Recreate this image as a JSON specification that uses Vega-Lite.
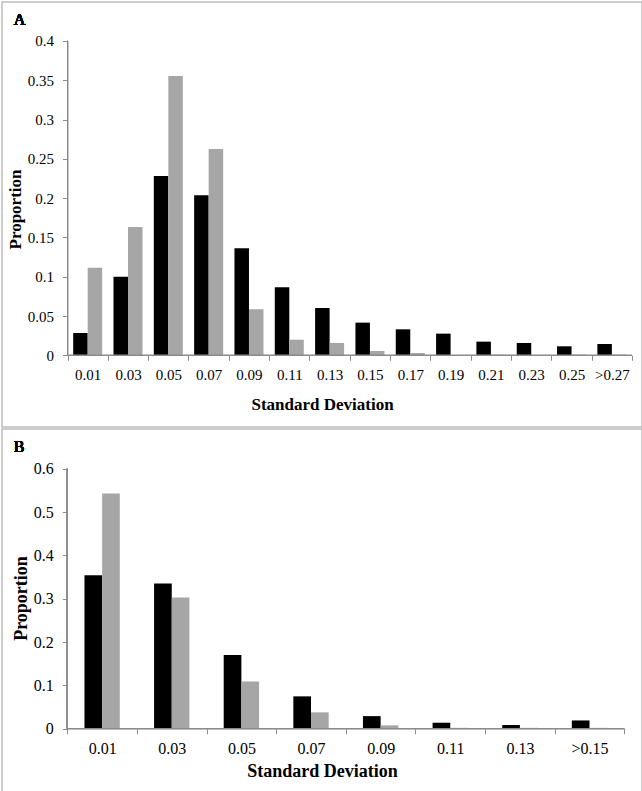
{
  "$schema": "https://vega.github.io/schema/vega-lite/v6.json",
  "padding": 1,
  "autosize": {"type": "pad"},
  "background": "white",
  "spacing": 0,
  "resolve": {"scale": {"x": "independent", "y": "independent", "xOffset": "independent", "color": "independent"}},
  "config": {
    "view": {"stroke": "#bdbdbd", "strokeWidth": 1.5},
    "font": "Liberation Serif",
    "axis": {"grid": false, "domain": false, "tickColor": "#8c8c8c", "tickSize": 5, "labelColor": "#000", "titleColor": "#000", "titleFontWeight": "bold", "labelFont": "Liberation Serif", "titleFont": "Liberation Serif"}
  },
  "vconcat": [
    {
      "width": 640,
      "height": 425,
      "data": {"values": [
        {"sd": "0.01", "group": "1", "p": 0.0284}, {"sd": "0.01", "group": "2", "p": 0.1116},
        {"sd": "0.03", "group": "1", "p": 0.1001}, {"sd": "0.03", "group": "2", "p": 0.1633},
        {"sd": "0.05", "group": "1", "p": 0.2282}, {"sd": "0.05", "group": "2", "p": 0.3555},
        {"sd": "0.07", "group": "1", "p": 0.2036}, {"sd": "0.07", "group": "2", "p": 0.2626},
        {"sd": "0.09", "group": "1", "p": 0.1362}, {"sd": "0.09", "group": "2", "p": 0.0585},
        {"sd": "0.11", "group": "1", "p": 0.0865}, {"sd": "0.11", "group": "2", "p": 0.0199},
        {"sd": "0.13", "group": "1", "p": 0.0602}, {"sd": "0.13", "group": "2", "p": 0.0157},
        {"sd": "0.15", "group": "1", "p": 0.0416}, {"sd": "0.15", "group": "2", "p": 0.0055},
        {"sd": "0.17", "group": "1", "p": 0.0331}, {"sd": "0.17", "group": "2", "p": 0.003},
        {"sd": "0.19", "group": "1", "p": 0.0276}, {"sd": "0.19", "group": "2", "p": 0.0003},
        {"sd": "0.21", "group": "1", "p": 0.0174}, {"sd": "0.21", "group": "2", "p": 0.001},
        {"sd": "0.23", "group": "1", "p": 0.0157}, {"sd": "0.23", "group": "2", "p": 0.0003},
        {"sd": "0.25", "group": "1", "p": 0.0115}, {"sd": "0.25", "group": "2", "p": 0.001},
        {"sd": ">0.27", "group": "1", "p": 0.0144}, {"sd": ">0.27", "group": "2", "p": 0.001}
      ]},
      "layer": [
        {
          "mark": {"type": "bar", "orient": "vertical"},
          "encoding": {
            "x": {"field": "sd", "type": "nominal", "sort": null,
              "scale": {"domain": ["0.01","0.03","0.05","0.07","0.09","0.11","0.13","0.15","0.17","0.19","0.21","0.23","0.25",">0.27"], "paddingInner": 0, "paddingOuter": 0.936, "align": 0.868, "round": false},
              "axis": {"offset": -71.7, "tickBand": "extent", "labelAngle": 0, "labelFontSize": 15, "labelPadding": 7, "title": "Standard Deviation", "titleFontSize": 17, "titlePadding": 14}},
            "xOffset": {"field": "group", "type": "nominal", "scale": {"paddingInner": 0, "paddingOuter": 0.39}},
            "y": {"field": "p", "type": "quantitative",
              "scale": {"domain": [-0.0912, 0.4496], "nice": false},
              "axis": {"offset": -65.5, "values": [0, 0.05, 0.1, 0.15, 0.2, 0.25, 0.3, 0.35, 0.4], "format": "~g", "labelFontSize": 15, "labelPadding": 9, "title": "Proportion", "titleFontSize": 17, "titlePadding": 3, "titleY": 207}},
            "color": {"field": "group", "type": "nominal", "scale": {"range": ["#000000", "#a6a6a6"]}, "legend": null}
          }
        },
        {
          "mark": {"type": "bar", "fill": null, "stroke": "#8c8c8c", "strokeWidth": 1},
          "encoding": {
            "x": {"field": "sd", "type": "nominal", "sort": null},
            "y": {"datum": 0},
            "y2": {"datum": 0}
          }
        },
        {
          "mark": {"type": "rule", "color": "#8c8c8c", "strokeWidth": 1},
          "encoding": {
            "x": {"datum": "0.01", "type": "nominal", "bandPosition": 0},
            "y": {"datum": 0},
            "y2": {"datum": 0.4}
          }
        },
        {
          "mark": {"type": "text", "align": "left", "baseline": "alphabetic", "fontSize": 16, "fontWeight": "normal", "color": "#000"},
          "encoding": {
            "x": {"datum": "0.01", "type": "nominal", "bandPosition": -1.334},
            "y": {"datum": 0.4203},
            "text": {"value": "A"}
          }
        }
      ]
    },
    {
      "width": 640,
      "height": 363,
      "data": {"values": [
        {"sd": "0.01", "group": "1", "p": 0.354}, {"sd": "0.01", "group": "2", "p": 0.543},
        {"sd": "0.03", "group": "1", "p": 0.335}, {"sd": "0.03", "group": "2", "p": 0.303},
        {"sd": "0.05", "group": "1", "p": 0.170}, {"sd": "0.05", "group": "2", "p": 0.109},
        {"sd": "0.07", "group": "1", "p": 0.0746}, {"sd": "0.07", "group": "2", "p": 0.0377},
        {"sd": "0.09", "group": "1", "p": 0.029}, {"sd": "0.09", "group": "2", "p": 0.0077},
        {"sd": "0.11", "group": "1", "p": 0.0138}, {"sd": "0.11", "group": "2", "p": 0.002},
        {"sd": "0.13", "group": "1", "p": 0.0085}, {"sd": "0.13", "group": "2", "p": 0.002},
        {"sd": ">0.15", "group": "1", "p": 0.019}, {"sd": ">0.15", "group": "2", "p": 0.002}
      ]},
      "layer": [
        {
          "mark": {"type": "bar", "orient": "vertical"},
          "encoding": {
            "x": {"field": "sd", "type": "nominal", "sort": null,
              "scale": {"domain": ["0.01","0.03","0.05","0.07","0.09","0.11","0.13",">0.15"], "paddingInner": 0, "paddingOuter": 0.596, "align": 0.787, "round": false},
              "axis": {"offset": -63.3, "tickBand": "extent", "labelAngle": 0, "labelFontSize": 16, "labelPadding": 7, "title": "Standard Deviation", "titleFontSize": 18, "titlePadding": 6}},
            "xOffset": {"field": "group", "type": "nominal", "scale": {"paddingInner": 0, "paddingOuter": 0.97}},
            "y": {"field": "p", "type": "quantitative",
              "scale": {"domain": [-0.1461, 0.6916], "nice": false},
              "axis": {"offset": -65.3, "values": [0, 0.1, 0.2, 0.3, 0.4, 0.5, 0.6], "format": "~g", "labelFontSize": 16, "labelPadding": 9, "title": "Proportion", "titleFontSize": 18, "titlePadding": 3, "titleY": 169}},
            "color": {"field": "group", "type": "nominal", "scale": {"range": ["#000000", "#a6a6a6"]}, "legend": null}
          }
        },
        {
          "mark": {"type": "bar", "fill": null, "stroke": "#8c8c8c", "strokeWidth": 1},
          "encoding": {
            "x": {"field": "sd", "type": "nominal", "sort": null},
            "y": {"datum": 0},
            "y2": {"datum": 0}
          }
        },
        {
          "mark": {"type": "rule", "color": "#8c8c8c", "strokeWidth": 1},
          "encoding": {
            "x": {"datum": "0.01", "type": "nominal", "bandPosition": 0},
            "y": {"datum": 0},
            "y2": {"datum": 0.6}
          }
        },
        {
          "mark": {"type": "text", "align": "left", "baseline": "alphabetic", "fontSize": 16, "fontWeight": "normal", "color": "#000"},
          "encoding": {
            "x": {"datum": "0.01", "type": "nominal", "bandPosition": -0.77},
            "y": {"datum": 0.6385},
            "text": {"value": "B"}
          }
        }
      ]
    }
  ]
}
